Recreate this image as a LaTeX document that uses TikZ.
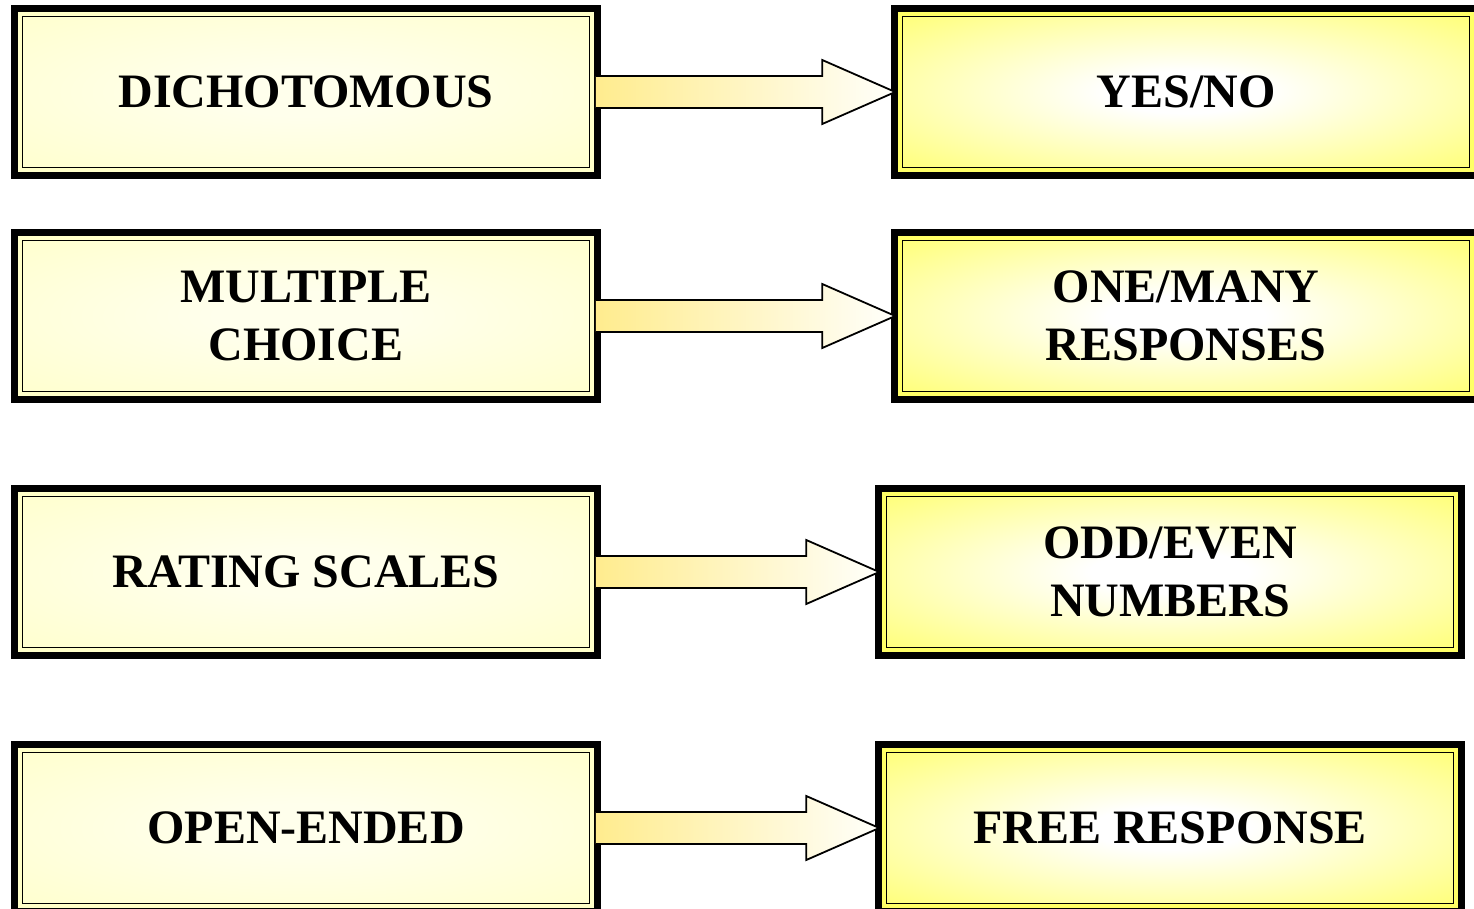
\documentclass[tikz,border=0pt]{standalone}
\usepackage{fontspec}
\setmainfont{Liberation Serif}
\usetikzlibrary{backgrounds,calc}
\definecolor{ledge}{HTML}{FFFFC8}
\definecolor{lcen}{HTML}{FFFFEC}
\definecolor{redge}{HTML}{FFFF66}
\definecolor{rcen}{HTML}{FFFFFF}
\definecolor{arrL}{HTML}{FFEC8E}
\definecolor{arrR}{HTML}{FFFFFB}
\pgfdeclareradialshading{leftglow}{\pgfpoint{0bp}{0bp}}{color(0bp)=(lcen); color(8bp)=(lcen); color(42bp)=(ledge); color(50bp)=(ledge)}
\pgfdeclareradialshading{rightglow}{\pgfpoint{0bp}{0bp}}{color(0bp)=(rcen); color(7bp)=(rcen); color(40bp)=(redge); color(50bp)=(redge)}
\tikzset{
  boxbase/.style={rectangle, draw=black, line width=1.5pt, inner sep=0pt,
    minimum width=567pt, minimum height=151pt, align=center,
    font=\fontsize{48}{58}\selectfont\bfseries},
  lbox/.style={boxbase, shading=leftglow},
  rbox/.style={boxbase, shading=rightglow},
  arrowshape/.style={draw=black, line width=1.8pt, line join=miter, left color=arrL, right color=arrR},
}
\begin{document}
\begin{tikzpicture}[x=1pt,y=-1pt]
\useasboundingbox (0,0) rectangle (1474,909);
% boxes
\node[lbox] (L1) at (306,92) {DICHOTOMOUS};
\node[rbox] (R1) at (1186,92) {YES/NO};
\node[lbox] (L2) at (306,316) {MULTIPLE\\CHOICE};
\node[rbox] (R2) at (1186,316) {ONE/MANY\\RESPONSES};
\node[lbox] (L3) at (306,572) {RATING SCALES};
\node[rbox] (R3) at (1170,572) {ODD/EVEN\\NUMBERS};
\node[lbox] (L4) at (306,828) {OPEN-ENDED};
\node[rbox] (R4) at (1170,828) {FREE RESPONSE};
% frames
\begin{scope}[on background layer]
\foreach \n/\c in {L1/ledge,L2/ledge,L3/ledge,L4/ledge,R1/redge,R2/redge,R3/redge,R4/redge}{
  \fill[black] ([shift={(-10.5,-10.5)}]\n.north west) rectangle ([shift={(10.5,10.5)}]\n.south east);
  \fill[\c] ([shift={(-3.5,-3.5)}]\n.north west) rectangle ([shift={(3.5,3.5)}]\n.south east);
}
\end{scope}
% arrows
\foreach \a/\b in {L1/R1,L2/R2,L3/R3,L4/R4}{
  \coordinate (s) at ([xshift=5.5]\a.east);
  \coordinate (t) at ([xshift=-6.5]\b.west);
  \path[arrowshape] ($(s)+(0,16)$) -- ($(t)+(-73,16)$) -- ($(t)+(-73,32)$) -- (t)
     -- ($(t)+(-73,-32)$) -- ($(t)+(-73,-16)$) -- ($(s)+(0,-16)$);
}
\end{tikzpicture}
\end{document}
